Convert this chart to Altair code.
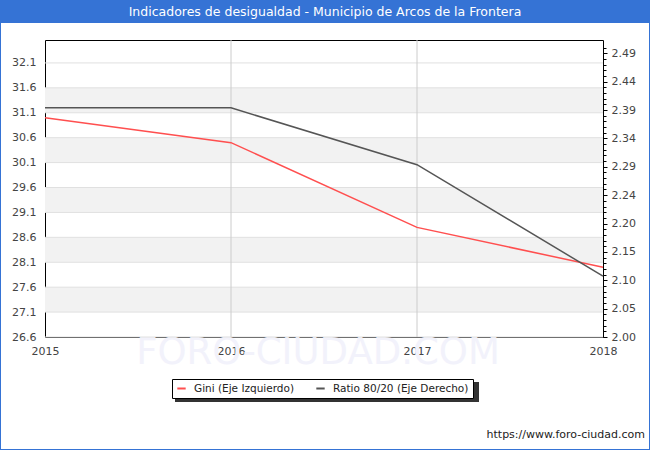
import altair as alt
import pandas as pd

# ---- data ----
years = [2015, 2016, 2017, 2018]
gini = [31.0, 30.5, 28.8, 28.0]
ratio = [2.395, 2.395, 2.297, 2.105]
series_names = ["Gini (Eje Izquierdo)", "Ratio 80/20 (Eje Derecho)"]
gini_ticks = [26.6, 27.1, 27.6, 28.1, 28.6, 29.1, 29.6, 30.1, 30.6, 31.1, 31.6, 32.1]
band_lo = [27.1, 28.1, 29.1, 30.1, 31.1]
band_hi = [27.6, 28.6, 29.6, 30.6, 31.6]
ratio_ticks = [2.0, 2.0489, 2.0978, 2.1467, 2.1956, 2.2445, 2.2934, 2.3423, 2.3912, 2.4401, 2.489]
ratio_minor = [round(2.0 + 0.00978 * i, 5) for i in range(52)]
grid_years = [2016, 2017]

W, H = 558, 297
FONT = "DejaVu Sans"
BLUE = "#3573d5"

gini_df = pd.DataFrame({"year": years, "value": gini, "serie": series_names[0]})
ratio_df = pd.DataFrame({"year": years, "value": ratio, "serie": series_names[1]})
bands_df = pd.DataFrame({"lo": band_lo, "hi": band_hi})
hgrid_df = pd.DataFrame({"v": gini_ticks})
vgrid_df = pd.DataFrame({"year": grid_years})
one = pd.DataFrame({"a": [0]})

x_scale = alt.Scale(domain=[2015, 2018], nice=False, zero=False)
gini_scale = alt.Scale(domain=[26.6, 32.56], nice=False, zero=False)
ratio_scale = alt.Scale(domain=[2.0, 2.512], nice=False, zero=False)

x_axis = alt.Axis(values=years, format="d", ticks=False, domain=False, grid=False,
                  labelPadding=8, title=None, labelFont=FONT, labelFontSize=11,
                  labelColor="#444444", labelFlush=False)
left_axis = alt.Axis(values=gini_ticks, format=".1f", ticks=False, domain=False, grid=False,
                     labelPadding=9, title=None, labelFont=FONT, labelFontSize=11,
                     labelColor="#444444", orient="left")
right_axis = alt.Axis(values=ratio_ticks, format=".2f", tickSize=4, domain=False, grid=False,
                      labelPadding=4, title=None, labelFont=FONT, labelFontSize=11,
                      labelColor="#444444", tickColor="#000000", orient="right", offset=0)
minor_axis = alt.Axis(values=ratio_minor, labels=False, tickSize=3, domain=False, grid=False,
                      title=None, tickColor="#000000", orient="right", offset=0)

color = alt.Color("serie:N",
                  scale=alt.Scale(domain=series_names, range=["#ff4f4f", "#555555"]),
                  legend=alt.Legend(title=None, orient="none", legendX=127, legendY=339,
                                    direction="horizontal", symbolType="stroke",
                                    symbolStrokeWidth=2, symbolSize=70,
                                    labelFont=FONT, labelFontSize=10.5, labelColor="#222222",
                                    fillColor="white", strokeColor="#000000", padding=4,
                                    columnPadding=17, labelOffset=7))

xe = alt.X("year:Q", scale=x_scale, axis=x_axis)

# decorations
title_bar = alt.Chart(one).mark_rect(color=BLUE).encode(
    x=alt.value(-45), x2=alt.value(W + 47), y=alt.value(-40), y2=alt.value(-17))
border_l = alt.Chart(one).mark_rect(color=BLUE).encode(
    x=alt.value(-45), x2=alt.value(-44), y=alt.value(-40), y2=alt.value(H + 113))
border_r = alt.Chart(one).mark_rect(color=BLUE).encode(
    x=alt.value(W + 46), x2=alt.value(W + 47), y=alt.value(-40), y2=alt.value(H + 113))
border_b = alt.Chart(one).mark_rect(color=BLUE).encode(
    x=alt.value(-45), x2=alt.value(W + 47), y=alt.value(H + 112), y2=alt.value(H + 113))
title = alt.Chart(one).mark_text(font=FONT, fontSize=12.5, color="white", baseline="middle",
                                 align="center").encode(
    x=alt.value(280), y=alt.value(-28),
    text=alt.value("Indicadores de desigualdad - Municipio de Arcos de la Frontera"))
watermark = alt.Chart(one).mark_text(font=FONT, fontSize=37, color="#f2f2fb", baseline="middle",
                                     align="center").encode(
    x=alt.value(273), y=alt.value(16 + H), text=alt.value("FORO-CIUDAD.COM"))
url = alt.Chart(one).mark_text(font=FONT, fontSize=11, color="#222222", baseline="middle",
                               align="right").encode(
    x=alt.value(W + 42), y=alt.value(H + 98), text=alt.value("https://www.foro-ciudad.com"))
shadow = alt.Chart(one).mark_rect(color="#333333").encode(
    x=alt.value(130), x2=alt.value(434), y=alt.value(342), y2=alt.value(362))

# gini layer (left axis)
bands = alt.Chart(bands_df).mark_rect(color="#f2f2f2").encode(
    y=alt.Y("lo:Q", scale=gini_scale, axis=left_axis), y2="hi:Q",
    x=alt.value(0), x2=alt.value(W))
hgrid = alt.Chart(hgrid_df).mark_rule(color="#e0e0e0", strokeWidth=1).encode(
    y=alt.Y("v:Q", scale=gini_scale, axis=left_axis), x=alt.value(0), x2=alt.value(W))
vgrid = alt.Chart(vgrid_df).mark_rule(color="#cccccc", strokeWidth=1).encode(
    x=xe, y=alt.value(0), y2=alt.value(H))
gini_line = alt.Chart(gini_df).mark_line(strokeWidth=1.5).encode(
    x=xe, y=alt.Y("value:Q", scale=gini_scale, axis=left_axis), color=color)
gini_layer = alt.layer(bands, hgrid, vgrid, gini_line)

ratio_line = alt.Chart(ratio_df).mark_line(strokeWidth=1.5).encode(
    x=xe, y=alt.Y("value:Q", scale=ratio_scale, axis=right_axis), color=color)
minor_layer = alt.Chart(ratio_df).mark_line(opacity=0).encode(
    x=xe, y=alt.Y("value:Q", scale=ratio_scale, axis=minor_axis))

chart = alt.layer(
    title_bar, border_l, border_r, border_b, watermark, shadow,
    gini_layer, ratio_line, minor_layer, title, url
).resolve_scale(y="independent").properties(
    width=W, height=H,
    autosize=alt.AutoSizeParams(type="none"),
    padding={"left": 45, "top": 40, "right": 47, "bottom": 113},
    background="white"
).configure_view(stroke="#000000", strokeWidth=1)

chart.save("out.html", embed_options={"renderer": "svg", "actions": False})
